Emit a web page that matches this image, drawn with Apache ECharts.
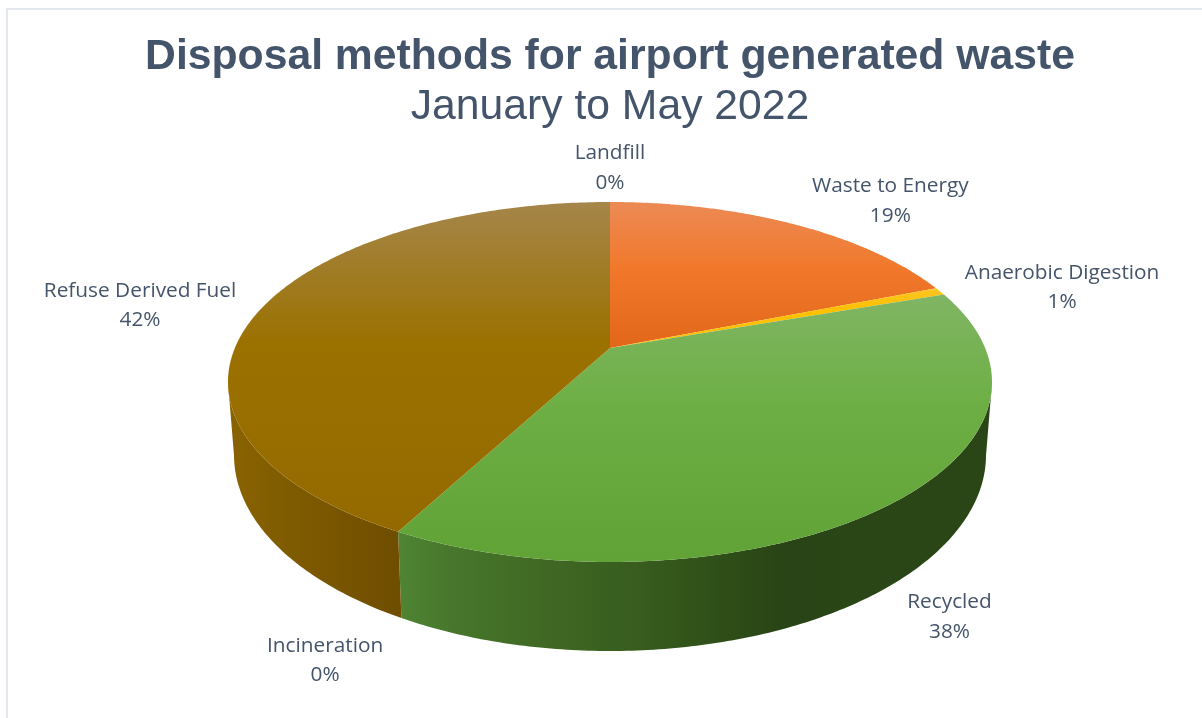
<!DOCTYPE html>
<html>
<head>
<meta charset="utf-8">
<title>Disposal methods for airport generated waste</title>
<script src="https://cdn.jsdelivr.net/npm/echarts@6/dist/echarts.min.js"></script>
<style>
  html, body { margin: 0; padding: 0; background: #fff; }
  #myChart { width: 1202px; height: 718px; }
</style>
</head>
<body>
<div id="myChart"></div>
<script>
// data, clockwise from 12 o'clock
const categories = ["Waste to Energy", "Anaerobic Digestion", "Recycled", "Incineration", "Refuse Derived Fuel", "Landfill"];
const shares = [19, 0.7, 38.1, 0, 42.2, 0];

// look of each slice, [offset, color]
const grey = [[0, "#999999"], [1, "#999999"]];
// vertical, over the height of the top ellipse
const topColors = [
  [[0, "#EC8A55"], [0.19, "#F1782A"], [0.4, "#E2671A"]],
  [[0.2, "#FFC93A"], [0.3, "#FFC000"]],
  [[0.26, "#80B563"], [0.56, "#6EAF45"], [0.97, "#62A338"]],
  grey,
  [[0, "#A5864A"], [0.39, "#9B7100"], [1, "#936900"]],
  grey
];
// horizontal, over the width of the pie
const sideColors = [
  grey,
  grey,
  [[0.221, "#4F8533"], [0.29, "#47772C"], [0.435, "#3F6622"], [0.54, "#375C1E"], [0.644, "#2F4F18"], [0.736, "#284315"], [0.814, "#2B4616"]],
  grey,
  [[0, "#8A6300"], [0.09, "#7E5A00"], [0.22, "#6F4E00"]],
  grey
];
// label centre relative to the rim point of the slice's middle
const labelOffsets = [[98, -23], [122, -4], [55, 115], [-73, 129], [-122, -2], [0, -34]];

// pie shape on screen
const topRim = { cx: 610, cy: 382, rx: 382, ry: 180 };
const bottomRim = { cx: 610, cy: 455, rx: 376, ry: 196 };
const tilt = 0.189; // how far the pie centre sits above the middle of the ellipse

const total = shares.reduce((a, b) => a + b, 0);

// circle -> ellipse with perspective, so the centre is not in the middle
function project(share, rim) {
  const t = (share / total) * Math.PI * 2;
  const x = Math.sin(t);
  const y = Math.cos(t);
  const d = 1 + tilt * y;
  const px = (x * Math.sqrt(1 - tilt * tilt)) / d;
  const py = (y + tilt) / d;
  return { front: py <= 0, p: [rim.cx + px * rim.rx, rim.cy - py * rim.ry] };
}

function stopsOf(colors) {
  return colors.map(c => ({ offset: c[0], color: c[1] }));
}

function renderSlice(params, api) {
  const i = params.dataIndex;
  const from = shares.slice(0, i).reduce((a, b) => a + b, 0);
  const value = api.value(0);
  const children = [];
  const steps = 200;

  const top = [];
  const sideTop = [];
  const sideBottom = [];
  for (let s = 0; s <= steps; s++) {
    const at = from + (value * s) / steps;
    const a = project(at, topRim);
    const b = project(at, bottomRim);
    top.push(a.p);
    if (a.front) {
      sideTop.push(a.p);
      sideBottom.unshift(b.p);
    }
  }

  if (value > 0) {
    if (sideTop.length > 1) {
      children.push({
        type: "polygon",
        z2: 1,
        shape: { points: sideTop.concat(sideBottom) },
        style: {
          fill: new echarts.graphic.LinearGradient(topRim.cx - topRim.rx, 0, topRim.cx + topRim.rx, 0, stopsOf(sideColors[i]), true)
        }
      });
    }
    const centre = [topRim.cx, topRim.cy - tilt * topRim.ry];
    children.push({
      type: "polygon",
      z2: 2,
      shape: { points: [centre].concat(top) },
      style: {
        fill: new echarts.graphic.LinearGradient(0, topRim.cy - topRim.ry, 0, topRim.cy + topRim.ry, stopsOf(topColors[i]), true)
      }
    });
  }

  const mid = project(from + value / 2, topRim).p;
  children.push({
    type: "text",
    z2: 3,
    x: mid[0] + labelOffsets[i][0],
    y: mid[1] + labelOffsets[i][1],
    style: {
      text: categories[i] + "\n" + Math.round((value / total) * 100) + "%",
      fill: "#44546A",
      font: '20.8px "Open Sans"',
      lineHeight: 29.5,
      align: "center",
      verticalAlign: "middle"
    }
  });
  return { type: "group", children: children };
}

let myChart = echarts.init(document.getElementById("myChart"));
myChart.setOption({
  animation: false,
  backgroundColor: "#fff",
  title: {
    text: "Disposal methods for airport generated waste",
    subtext: "January to May 2022",
    left: 605,
    top: 31,
    textAlign: "center",
    itemGap: 7,
    textStyle: { fontFamily: "Liberation Sans", fontSize: 42.7, fontWeight: "bold", color: "#44546A" },
    subtextStyle: { fontFamily: "Liberation Sans", fontSize: 42.7, fontWeight: "normal", color: "#44546A" }
  },
  graphic: [
    {
      type: "rect",
      shape: { x: 7, y: 9, width: 1300, height: 800 },
      style: { fill: "none", stroke: "#E3E8EF", lineWidth: 2 },
      silent: true
    }
  ],
  series: [
    {
      type: "custom",
      coordinateSystem: "none",
      renderItem: renderSlice,
      data: shares.map((v, i) => ({ name: categories[i], value: [v] }))
    }
  ]
});
</script>
</body>
</html>
